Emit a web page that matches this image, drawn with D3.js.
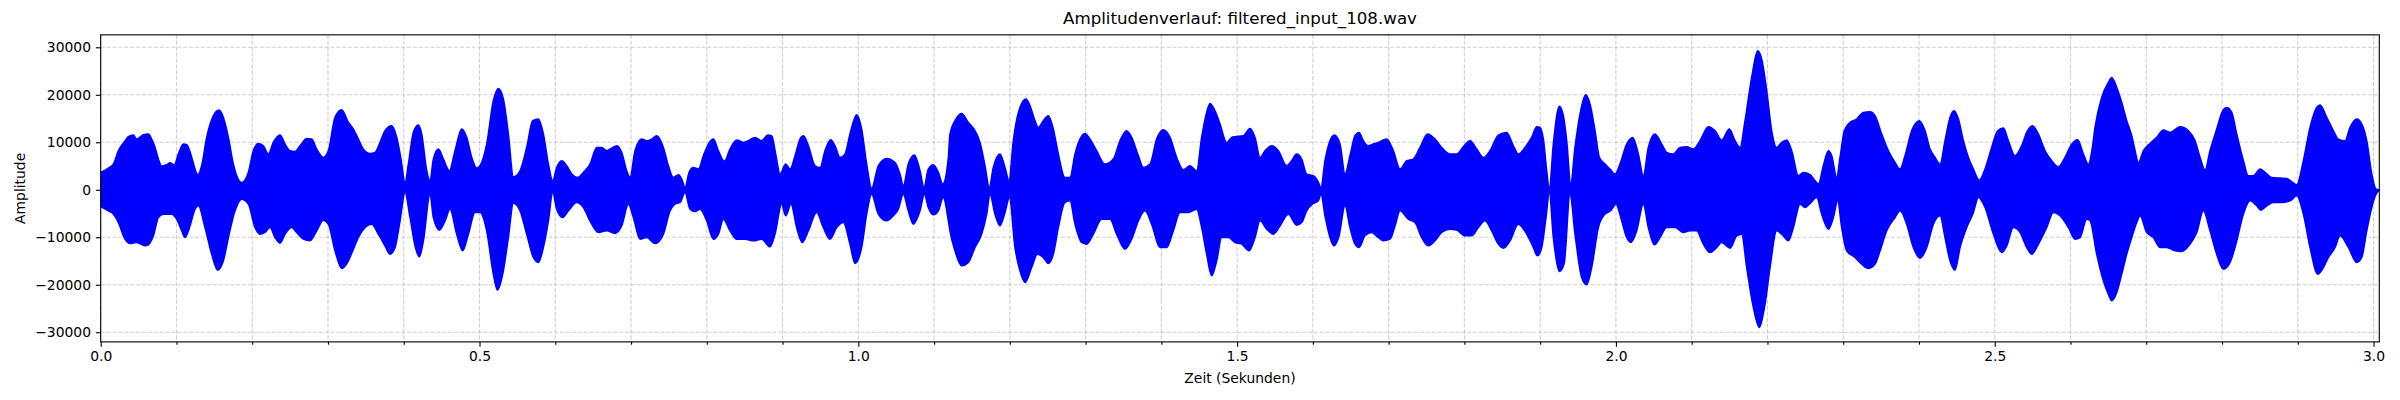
<!DOCTYPE html>
<html>
<head>
<meta charset="utf-8">
<script src="https://cdn.jsdelivr.net/npm/d3@7/dist/d3.min.js"></script>
<style>
html,body{margin:0;padding:0;background:#fff;}
svg{display:block;font-family:"DejaVu Sans",sans-serif;}
</style>
</head>
<body>
<svg id="chart" width="2400" height="400"></svg>
<script>
// ---------- data ----------
const titleText = "Amplitudenverlauf: filtered_input_108.wav";
const xLabelText = "Zeit (Sekunden)";
const yLabelText = "Amplitude";
const xDomain = [0, 3.0076];
const yDomain = [-32030, 32620];
const xMajorTicks = [0, 0.5, 1.0, 1.5, 2.0, 2.5, 3.0];
const xMinorTicks = [0.1,0.2,0.3,0.4,0.6,0.7,0.8,0.9,1.1,1.2,1.3,1.4,1.6,1.7,1.8,1.9,2.1,2.2,2.3,2.4,2.6,2.7,2.8,2.9];
const yTicks = [-30000, -20000, -10000, 0, 10000, 20000, 30000];

// upper envelope of the waveform: [time (s), amplitude]
const upperEnvelope = [
[0.0000,3650],[0.0101,4560],[0.0167,5400],[0.0233,8200],[0.0321,10300],[0.0365,11160],[0.0431,11500],[0.0475,10670],[0.0563,11580],[0.0629,11720],[0.0673,10670],[0.0717,8900],[0.0761,6460],[0.0805,4980],[0.0871,5260],[0.0915,5680],[0.0972,5260],[0.1025,7510],[0.1091,9610],[0.1135,9470],[0.1201,6810],[0.1245,4350],[0.1280,3160],[0.1333,5050],[0.1399,11020],[0.1487,15580],[0.1562,16770],[0.1619,15230],[0.1685,11020],[0.1751,5400],[0.1861,1540],[0.1949,3650],[0.2015,8210],[0.2081,9750],[0.2147,9260],[0.2213,7510],[0.2279,9960],[0.2367,11510],[0.2433,9610],[0.2499,8210],[0.2565,8070],[0.2631,9260],[0.2719,10810],[0.2785,10670],[0.2851,8560],[0.2939,6810],[0.3005,8210],[0.3093,15230],[0.3181,16840],[0.3269,14180],[0.3335,12770],[0.3401,10670],[0.3467,8560],[0.3555,7650],[0.3621,7860],[0.3687,9960],
[0.3753,12420],[0.3841,13470],[0.3907,11020],[0.3960,6810],[0.4017,1540],[0.4061,5400],[0.4127,12070],[0.4193,13610],[0.4237,11720],[0.4303,4000],[0.4347,1890],[0.4391,6460],[0.4457,8560],[0.4523,6460],[0.4602,4000],[0.4677,8210],[0.4765,12770],[0.4831,11020],[0.4897,6810],[0.4963,4560],[0.5007,5050],[0.5095,9610],[0.5183,18740],[0.5249,21330],[0.5315,19090],[0.5381,11720],[0.5447,2740],[0.5535,4000],[0.5623,8910],[0.5702,14530],[0.5777,14880],[0.5843,11720],[0.5909,5400],[0.5966,1890],[0.6019,4700],[0.6085,6110],[0.6151,5050],[0.6217,3300],[0.6292,2600],[0.6371,3650],[0.6459,5400],[0.6547,8910],[0.6613,8910],[0.6679,8210],[0.6745,8770],[0.6811,9260],[0.6877,7860],[0.6943,4000],[0.6987,2600],[0.7053,8210],[0.7141,10670],[0.7207,10320],[0.7273,10670],[0.7339,11370],[0.7427,8910],
[0.7493,5050],[0.7559,2600],[0.7625,3160],[0.7669,2250],[0.7713,490],[0.7766,3650],[0.7822,4700],[0.7889,4350],[0.7955,7160],[0.8021,9610],[0.8087,10670],[0.8153,8210],[0.8232,5970],[0.8307,8560],[0.8395,10460],[0.8483,9960],[0.8549,10320],[0.8637,11020],[0.8725,10320],[0.8804,11510],[0.8857,11370],[0.8909,7510],[0.8967,3300],[0.9042,5400],[0.9099,4350],[0.9165,7160],[0.9231,10670],[0.9275,11370],[0.9341,9260],[0.9429,5050],[0.9495,4700],[0.9561,8210],[0.9635,10530],[0.9692,9260],[0.9758,6810],[0.9824,7510],[0.9890,11720],[0.9978,15790],[1.0044,12770],[1.0110,5400],[1.0176,300],[1.0264,5050],[1.0374,6600],[1.0484,5750],[1.0550,3300],[1.0594,840],[1.0660,5400],[1.0740,7300],[1.0814,4000],[1.0867,490],[1.0924,4350],[1.0990,5260],[1.1056,3650],[1.1114,1190],[1.1189,6810],
[1.1210,11720],[1.1276,14530],[1.1364,16070],[1.1452,14180],[1.1518,12980],[1.1606,9960],[1.1672,5050],[1.1729,490],[1.1782,4700],[1.1870,7510],[1.1936,4700],[1.1989,1890],[1.2046,10320],[1.2134,17330],[1.2213,19090],[1.2266,17690],[1.2332,14530],[1.2376,13120],[1.2442,14530],[1.2508,15580],[1.2574,12770],[1.2640,7510],[1.2728,2600],[1.2794,2600],[1.2860,7510],[1.2926,10670],[1.2992,11860],[1.3058,10670],[1.3146,8210],[1.3256,5400],[1.3366,6460],[1.3454,10320],[1.3542,12420],[1.3608,11020],[1.3696,7160],[1.3762,4700],[1.3850,5400],[1.3938,10670],[1.4026,12630],[1.4114,11020],[1.4202,6810],[1.4290,4210],[1.4378,5050],[1.4466,4000],[1.4532,11020],[1.4598,16280],[1.4642,18180],[1.4708,16630],[1.4774,13830],[1.4862,9960],[1.4928,11020],
[1.4972,11160],[1.5082,11370],[1.5170,12910],[1.5236,11020],[1.5302,6810],[1.5368,8210],[1.5456,9260],[1.5544,8210],[1.5654,5050],[1.5720,6110],[1.5786,7510],[1.5852,6460],[1.5918,3300],[1.6006,2950],[1.6063,1890],[1.6107,490],[1.6160,6110],[1.6226,10320],[1.6283,11510],[1.6358,9610],[1.6424,3300],[1.6490,7160],[1.6556,11370],[1.6609,12070],[1.6666,10320],[1.6732,9260],[1.6798,9610],[1.6864,9960],[1.6974,10670],[1.7062,8210],[1.7150,4350],[1.7238,6110],[1.7326,6460],[1.7414,8910],[1.7515,11720],[1.7612,10670],[1.7700,8910],[1.7810,7510],[1.7898,7510],[1.7986,9050],[1.8074,10320],[1.8162,8560],[1.8250,6810],[1.8338,8210],[1.8448,11510],[1.8558,12070],[1.8646,9260],[1.8712,7510],
[1.8800,8910],[1.8888,11020],[1.8954,13260],[1.8998,13120],[1.9042,10670],[1.9086,4000],[1.9121,140],[1.9174,9610],[1.9253,17550],[1.9306,15580],[1.9350,10320],[1.9403,1190],[1.9460,8910],[1.9526,15930],[1.9601,20000],[1.9658,18040],[1.9724,12420],[1.9781,6810],[1.9856,5400],[1.9922,4350],[1.9988,3300],[2.0054,5400],[2.0142,9610],[2.0221,11020],[2.0296,7510],[2.0362,2950],[2.0428,8910],[2.0516,11720],[2.0604,9610],[2.0670,7860],[2.0758,7510],[2.0846,8910],[2.0934,9050],[2.1022,8560],[2.1110,10320],[2.1220,13260],[2.1308,12420],[2.1396,10460],[2.1497,12770],[2.1572,10320],[2.1638,8910],[2.1704,14530],[2.1792,23650],[2.1871,29260],[2.1924,27510],[2.1990,20840],[2.2056,12420],[2.2122,8910],[2.2188,9960],[2.2254,10460],[2.2320,8210],[2.2408,2950],[2.2474,3650],
[2.2562,3160],[2.2628,1890],[2.2672,1190],[2.2738,5050],[2.2804,8210],[2.2848,7160],[2.2914,2600],[2.2958,6810],[2.3015,12420],[2.3090,14180],[2.3178,14880],[2.3266,16280],[2.3354,16420],[2.3420,15580],[2.3508,11720],[2.3596,8210],[2.3684,5750],[2.3750,4350],[2.3816,7160],[2.3904,12420],[2.4005,14530],[2.4080,12420],[2.4146,8560],[2.4212,6810],[2.4278,5400],[2.4344,10320],[2.4410,15230],[2.4463,16630],[2.4520,14880],[2.4586,10320],[2.4652,6810],[2.4718,4350],[2.4797,2040],[2.4872,4350],[2.4960,8910],[2.5039,12420],[2.5114,12980],[2.5180,10320],[2.5268,7160],[2.5356,9260],[2.5422,12070],[2.5497,13470],[2.5576,11720],[2.5664,8210],[2.5752,6110],[2.5840,4840],[2.5928,6810],[2.6016,9610],[2.6095,10530],[2.6170,7510],[2.6236,5400],
[2.6289,8910],[2.6324,13120],[2.6412,19440],[2.6500,22600],[2.6544,23650],[2.6610,21550],[2.6676,18390],[2.6742,14530],[2.6808,11370],[2.6852,8210],[2.6896,5750],[2.6962,8210],[2.7050,9750],[2.7138,11020],[2.7226,12560],[2.7314,12070],[2.7446,13260],[2.7556,12420],[2.7644,10320],[2.7710,6810],[2.7776,4140],[2.7842,8210],[2.7930,12770],[2.8009,16630],[2.8062,17330],[2.8128,16280],[2.8194,11720],[2.8282,6110],[2.8348,2950],[2.8414,2950],[2.8502,4350],[2.8568,3650],[2.8656,2600],[2.8766,2460],[2.8854,2390],[2.8933,1540],[2.8986,1050],[2.9074,6110],[2.9162,13120],[2.9250,17330],[2.9294,17830],[2.9382,15230],[2.9470,12420],[2.9536,10670],[2.9624,10320],[2.9690,13120],[2.9778,14880],[2.9844,13830],[2.9910,10320],[2.9976,3300],[3.0033,140],[3.0068,0]
];

// lower envelope of the waveform: [time (s), amplitude]
const lowerEnvelope = [
[0.0000,-3510],[0.0101,-4420],[0.0167,-5120],[0.0233,-6880],[0.0321,-10390],[0.0387,-11300],[0.0475,-11090],[0.0585,-11790],[0.0629,-11580],[0.0695,-9690],[0.0761,-5820],[0.0827,-5120],[0.0937,-5120],[0.1003,-6180],[0.1069,-8630],[0.1113,-10040],[0.1179,-7580],[0.1245,-4070],[0.1289,-3370],[0.1377,-7930],[0.1465,-13550],[0.1544,-16910],[0.1619,-14950],[0.1685,-10040],[0.1773,-4420],[0.1861,-1970],[0.1949,-3020],[0.2037,-7930],[0.2103,-9330],[0.2169,-8980],[0.2235,-7930],[0.2301,-10040],[0.2367,-11230],[0.2433,-9330],[0.2521,-7930],[0.2587,-8980],[0.2675,-10390],[0.2763,-10740],[0.2851,-8630],[0.2939,-6390],[0.3005,-7230],[0.3093,-12840],[0.3181,-16560],[0.3269,-14950],[0.3335,-12490],[0.3401,-10040],[0.3489,-7930],[0.3577,-7230],[0.3665,-9330],
[0.3753,-11790],[0.3819,-13550],[0.3885,-12140],[0.3951,-6530],[0.4017,-560],[0.4083,-5820],[0.4149,-11790],[0.4206,-14110],[0.4259,-10740],[0.4347,-910],[0.4391,-5820],[0.4470,-8490],[0.4545,-6530],[0.4611,-4070],[0.4699,-9330],[0.4778,-12840],[0.4853,-9330],[0.4941,-4770],[0.5007,-4770],[0.5095,-8630],[0.5183,-17760],[0.5236,-21120],[0.5306,-17760],[0.5381,-10040],[0.5447,-2810],[0.5535,-4420],[0.5623,-9330],[0.5711,-14250],[0.5777,-15300],[0.5843,-12140],[0.5909,-6530],[0.5966,-560],[0.6019,-4070],[0.6098,-5820],[0.6173,-4420],[0.6283,-2670],[0.6371,-3720],[0.6459,-6530],[0.6569,-8980],[0.6679,-8630],[0.6789,-9190],[0.6877,-7580],[0.6965,-3020],[0.7031,-5820],[0.7119,-10390],[0.7207,-10040],[0.7317,-11300],[0.7427,-9330],
[0.7515,-4420],[0.7581,-3020],[0.7647,-2670],[0.7713,-560],[0.7779,-4070],[0.7845,-4560],[0.7911,-4070],[0.7999,-6530],[0.8087,-10390],[0.8153,-9330],[0.8219,-6180],[0.8307,-8630],[0.8395,-10390],[0.8505,-10390],[0.8615,-10740],[0.8725,-10390],[0.8834,-12000],[0.8900,-9330],[0.8988,-3020],[0.9041,-5470],[0.9112,-3020],[0.9186,-7930],[0.9261,-11090],[0.9341,-8630],[0.9450,-4770],[0.9538,-7930],[0.9626,-10390],[0.9714,-7930],[0.9802,-6880],[0.9890,-11440],[0.9956,-15510],[1.0044,-12140],[1.0110,-5120],[1.0176,-910],[1.0264,-5120],[1.0374,-6530],[1.0462,-5470],[1.0528,-4070],[1.0594,-910],[1.0660,-4420],[1.0726,-7230],[1.0814,-4420],[1.0872,-910],[1.0924,-3720],[1.0990,-5260],[1.1056,-4420],[1.1122,-1610],[1.1189,-6530],
[1.1210,-8630],[1.1276,-12840],[1.1364,-16000],[1.1452,-15300],[1.1540,-12140],[1.1628,-9330],[1.1694,-5120],[1.1738,-910],[1.1804,-5120],[1.1870,-7580],[1.1936,-4770],[1.1994,-1610],[1.2068,-12140],[1.2134,-17050],[1.2200,-19510],[1.2288,-16350],[1.2363,-13550],[1.2442,-14250],[1.2508,-15510],[1.2574,-13550],[1.2640,-7930],[1.2728,-2670],[1.2794,-2320],[1.2860,-7230],[1.2948,-11090],[1.3014,-11440],[1.3102,-9330],[1.3212,-6180],[1.3322,-6180],[1.3410,-9330],[1.3520,-12490],[1.3608,-10390],[1.3696,-6530],[1.3784,-4420],[1.3872,-7230],[1.3982,-12140],[1.4070,-12140],[1.4158,-8630],[1.4246,-4770],[1.4356,-4770],[1.4466,-4070],[1.4532,-7930],[1.4598,-13550],[1.4664,-18110],[1.4730,-14950],[1.4796,-10040],[1.4884,-10040],
[1.4972,-11090],[1.5060,-11440],[1.5157,-12840],[1.5236,-10040],[1.5302,-6530],[1.5390,-8280],[1.5478,-9330],[1.5566,-7580],[1.5676,-5120],[1.5786,-7440],[1.5852,-6880],[1.5918,-4420],[1.6006,-2880],[1.6072,-2320],[1.6107,-910],[1.6160,-5470],[1.6226,-10040],[1.6279,-11790],[1.6345,-9690],[1.6424,-3370],[1.6490,-7930],[1.6556,-11440],[1.6609,-12140],[1.6688,-9690],[1.6776,-8980],[1.6864,-10040],[1.6930,-10740],[1.7018,-10390],[1.7084,-7580],[1.7150,-4420],[1.7260,-6180],[1.7348,-6880],[1.7436,-10040],[1.7524,-11790],[1.7612,-10740],[1.7700,-8980],[1.7810,-8280],[1.7898,-8490],[1.8008,-9690],[1.8096,-9690],[1.8184,-7930],[1.8272,-6530],[1.8360,-8630],[1.8448,-11440],[1.8514,-12280],[1.8602,-10740],[1.8712,-7230],
[1.8822,-9330],[1.8910,-12140],[1.8963,-13900],[1.9020,-12140],[1.9077,-5820],[1.9121,-560],[1.9174,-10040],[1.9253,-17190],[1.9315,-15650],[1.9394,-910],[1.9460,-9330],[1.9548,-18460],[1.9614,-20000],[1.9680,-16350],[1.9768,-7930],[1.9856,-5120],[1.9931,-4420],[2.0001,-3020],[2.0076,-6530],[2.0142,-10040],[2.0199,-11090],[2.0274,-8630],[2.0362,-3020],[2.0428,-7930],[2.0507,-11580],[2.0582,-10040],[2.0670,-7930],[2.0780,-7930],[2.0890,-8980],[2.0978,-8630],[2.1066,-8630],[2.1154,-11440],[2.1242,-13190],[2.1330,-12140],[2.1396,-11090],[2.1506,-12280],[2.1594,-9690],[2.1660,-9330],[2.1726,-16350],[2.1814,-24770],[2.1893,-28980],[2.1968,-24070],[2.2034,-16350],[2.2122,-8630],[2.2188,-9330],[2.2276,-10740],[2.2342,-7930],[2.2430,-3020],
[2.2496,-3720],[2.2562,-2880],[2.2650,-1610],[2.2716,-5120],[2.2804,-8280],[2.2870,-5820],[2.2927,-2320],[2.2980,-7930],[2.3046,-12840],[2.3156,-14250],[2.3244,-15650],[2.3332,-16560],[2.3420,-15650],[2.3486,-12840],[2.3574,-8630],[2.3684,-5820],[2.3750,-4420],[2.3838,-7230],[2.3926,-12140],[2.4014,-14390],[2.4102,-12140],[2.4190,-7230],[2.4278,-5470],[2.4344,-10040],[2.4410,-14950],[2.4476,-16910],[2.4542,-12140],[2.4630,-7930],[2.4718,-4770],[2.4784,-1610],[2.4872,-3720],[2.4982,-9330],[2.5092,-13190],[2.5158,-11790],[2.5246,-7930],[2.5334,-8980],[2.5422,-12140],[2.5488,-13550],[2.5576,-11440],[2.5686,-7930],[2.5774,-4770],[2.5862,-5470],[2.5972,-7930],[2.6060,-10390],[2.6126,-10040],[2.6214,-6180],
[2.6258,-6530],[2.6346,-13550],[2.6434,-19160],[2.6500,-21970],[2.6544,-23370],[2.6610,-21620],[2.6676,-17760],[2.6742,-13550],[2.6808,-10040],[2.6874,-6880],[2.6918,-5470],[2.7006,-8980],[2.7094,-10040],[2.7182,-12140],[2.7270,-12140],[2.7380,-12840],[2.7468,-12980],[2.7578,-11440],[2.7666,-8980],[2.7754,-4420],[2.7842,-8630],[2.7930,-13550],[2.8018,-16700],[2.8106,-15300],[2.8194,-10740],[2.8282,-5120],[2.8370,-2320],[2.8458,-3370],[2.8511,-4280],[2.8590,-3370],[2.8678,-2670],[2.8788,-2670],[2.8898,-2320],[2.8986,-1260],[2.9074,-5120],[2.9162,-12140],[2.9263,-17760],[2.9338,-16350],[2.9404,-14250],[2.9492,-12140],[2.9558,-9690],[2.9668,-12140],[2.9778,-15300],[2.9844,-14250],[2.9910,-8630],[2.9976,-3720],[3.0033,-910],[3.0068,-210]
];

// ---------- layout ----------
const W = 2400, H = 400;
const margin = {left: 100.7, right: 20.7, top: 34.85, bottom: 58.1};
const pw = W - margin.left - margin.right;
const ph = H - margin.top - margin.bottom;
const PT = 100/72; // px per point at dpi 100

const svg = d3.select("#chart");
const x = d3.scaleLinear().domain(xDomain).range([margin.left, margin.left + pw]);
const y = d3.scaleLinear().domain(yDomain).range([margin.top + ph, margin.top]);

const gridStyle = g => g.attr("stroke", "#b0b0b0").attr("stroke-opacity", 0.6)
  .attr("stroke-width", 0.8*PT).attr("stroke-dasharray", `${3.7*0.8*PT},${1.6*0.8*PT}`);

// grid
const grid = svg.append("g");
grid.selectAll("line.vx").data(xMajorTicks.concat(xMinorTicks)).join("line")
  .attr("x1", d => x(d)).attr("x2", d => x(d))
  .attr("y1", margin.top).attr("y2", margin.top + ph)
  .call(gridStyle);
grid.selectAll("line.hy").data(yTicks).join("line")
  .attr("x1", margin.left).attr("x2", margin.left + pw)
  .attr("y1", d => y(d)).attr("y2", d => y(d))
  .call(gridStyle);

// waveform (filled envelope, smoothed edges)
const edge = d3.line().x(d => x(d[0])).y(d => y(d[1])).curve(d3.curveMonotoneX);
const upperPath = edge(upperEnvelope);
const lowerPath = edge(lowerEnvelope);
// go along the upper edge, drop to the lower edge at the end, and return along it
const lowerRev = d3.line().x(d => x(d[0])).y(d => y(d[1])).curve(d3.curveMonotoneX)(lowerEnvelope.slice().reverse());
const waveD = upperPath + "L" + lowerRev.slice(1) + "Z";
svg.append("defs").append("clipPath").attr("id", "clip")
  .append("rect").attr("x", margin.left).attr("y", margin.top).attr("width", pw).attr("height", ph);
svg.append("path")
  .attr("clip-path", "url(#clip)")
  .attr("d", waveD)
  .attr("fill", "#0000ff")
  .attr("stroke", "#0000ff")
  .attr("stroke-width", 1.6)
  .attr("stroke-linejoin", "round");

// axes
const fmtY = d => d < 0 ? "\u2212" + Math.abs(d) : String(d);
const xAxis = d3.axisBottom(x).tickValues(xMajorTicks).tickFormat(d3.format(".1f"))
  .tickSizeInner(3.5*PT).tickSizeOuter(0).tickPadding(3.5*PT);
const xAxisMinor = d3.axisBottom(x).tickValues(xMinorTicks).tickFormat("")
  .tickSizeInner(2*PT).tickSizeOuter(0);
const yAxis = d3.axisLeft(y).tickValues(yTicks).tickFormat(fmtY)
  .tickSizeInner(3.5*PT).tickSizeOuter(0).tickPadding(3.5*PT);

const styleAxis = g => {
  g.select(".domain").remove();
  g.selectAll(".tick line").attr("stroke", "#000").attr("stroke-width", 0.8*PT);
  g.selectAll(".tick text").attr("fill", "#000").attr("font-size", 10*PT)
    .attr("font-family", "DejaVu Sans, sans-serif");
};
svg.append("g").attr("transform", `translate(0,${margin.top + ph})`).call(xAxisMinor).call(styleAxis);
svg.append("g").attr("transform", `translate(0,${margin.top + ph})`).call(xAxis).call(styleAxis);
svg.append("g").attr("transform", `translate(${margin.left},0)`).call(yAxis).call(styleAxis);

// frame
svg.append("rect").attr("x", margin.left).attr("y", margin.top).attr("width", pw).attr("height", ph)
  .attr("fill", "none").attr("stroke", "#000").attr("stroke-width", 0.8*PT);

// title and labels
svg.append("text").attr("x", margin.left + pw/2).attr("y", margin.top - 6*PT - 3)
  .attr("text-anchor", "middle").attr("font-size", 12*PT).attr("fill", "#000").text(titleText);
svg.append("text").attr("x", margin.left + pw/2).attr("y", 383)
  .attr("text-anchor", "middle").attr("font-size", 10*PT).attr("fill", "#000").text(xLabelText);
svg.append("text").attr("transform", `translate(24.5,${margin.top + ph/2}) rotate(-90)`)
  .attr("text-anchor", "middle").attr("font-size", 10*PT).attr("fill", "#000").text(yLabelText);
</script>
</body>
</html>
